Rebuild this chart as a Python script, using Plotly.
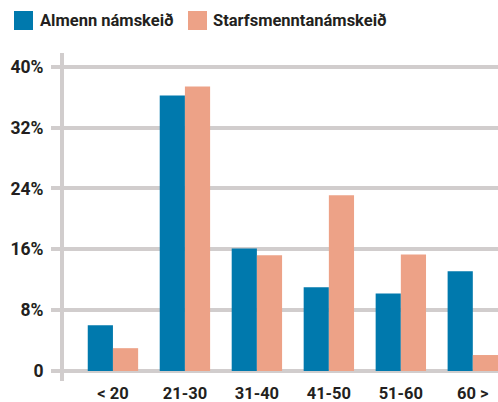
import plotly.graph_objects as go

categories = ["< 20", "21-30", "31-40", "41-50", "51-60", "60 >"]
almenn = [6.0, 36.2, 16.1, 11.0, 10.2, 13.1]
starfs = [3.0, 37.4, 15.2, 23.1, 15.3, 2.1]
series_names = ["Almenn námskeið", "Starfsmenntanámskeið"]
y_tickvals = [0, 8, 16, 24, 32, 40]
y_ticktext = ["0", "8%", "16%", "24%", "32%", "40%"]

BLUE = "#0079AD"
ORANGE = "#EDA287"
GRID = "#D1CDCD"
TEXT = "#231F20"

W, H = 498, 402
L, R, T, B = 64, 0, 53, 21
pw, ph = W - L - R, H - T - B

def px_x(x):
    return (x - L) / pw

def px_y(y):
    return (H - B - y) / ph

fig = go.Figure()
xs = list(range(len(categories)))
fig.add_trace(go.Bar(x=xs, y=almenn, name=series_names[0], marker_color=BLUE,
                     marker_line_width=0, showlegend=False))
fig.add_trace(go.Bar(x=xs, y=starfs, name=series_names[1], marker_color=ORANGE,
                     marker_line_width=0, showlegend=False))

y_font = dict(family="Roboto, DejaVu Sans Condensed", size=17.5, color=TEXT, weight="bold")
x_font = dict(family="Roboto, DejaVu Sans Condensed", size=16.5, color=TEXT, weight="bold")
legend_font = dict(family="Roboto, DejaVu Sans Condensed", size=16.5, color=TEXT, weight="bold")

fig.update_layout(
    width=W, height=H,
    margin=dict(l=L, r=R, t=T, b=B, pad=0, autoexpand=False),
    paper_bgcolor="white", plot_bgcolor="white",
    barmode="group", bargap=0.3, bargroupgap=0,
    showlegend=False,
    xaxis=dict(
        range=[-0.68, 5.35], tickvals=xs, ticktext=categories,
        showgrid=False, zeroline=False, showline=False, ticks="",
        tickfont=x_font, ticklabelstandoff=0, automargin=False,
    ),
    yaxis=dict(
        range=[-1.314, 41.8], tickvals=y_tickvals, ticktext=y_ticktext,
        showgrid=True, gridcolor=GRID, gridwidth=4, zeroline=False,
        showline=True, linecolor=GRID, linewidth=4,
        ticks="outside", ticklen=9, tickwidth=4, tickcolor=GRID,
        tickfont=y_font, ticklabelstandoff=4, automargin=False,
    ),
)

# legend drawn manually
legend_items = [(14, BLUE, 38, series_names[0]), (188, ORANGE, 211, series_names[1])]
for sx, col, tx, label in legend_items:
    fig.add_shape(type="rect", xref="paper", yref="paper",
                  x0=px_x(sx), x1=px_x(sx + 19), y0=px_y(30), y1=px_y(11),
                  fillcolor=col, line_width=0)
    fig.add_annotation(xref="paper", yref="paper", x=px_x(tx), y=px_y(21),
                       xanchor="left", yanchor="middle", text="<b>" + label + "</b>",
                       showarrow=False, font=legend_font)

fig.write_html(
    "out.html",
    config={"displayModeBar": False},
    post_script="document.body.style.margin='0';document.body.style.overflow='hidden';",
)
